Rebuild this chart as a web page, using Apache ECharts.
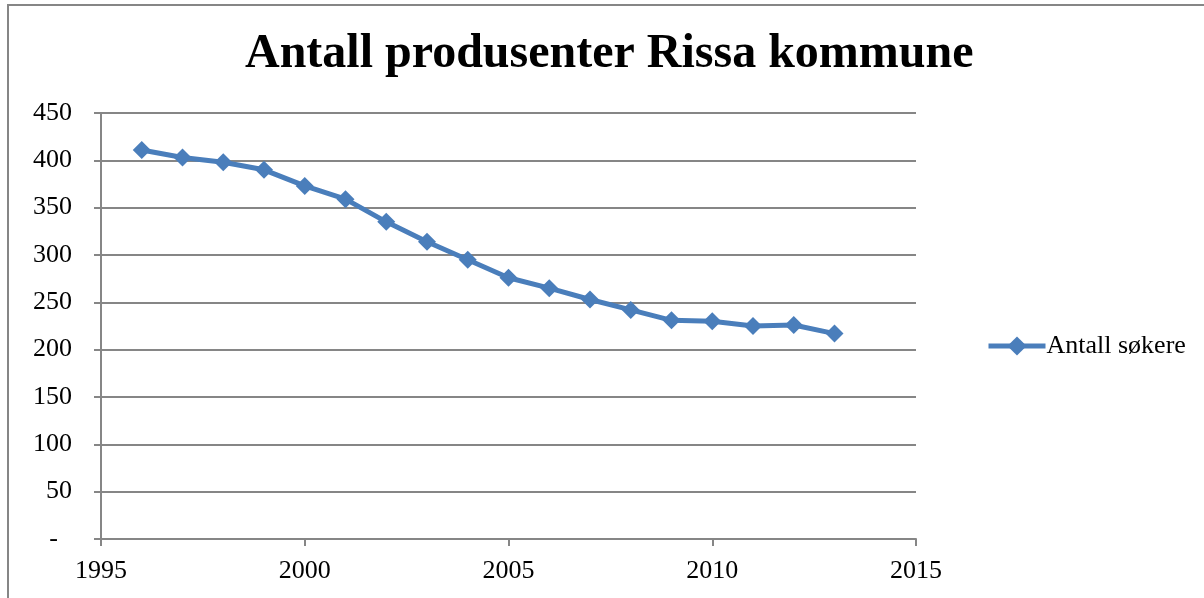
<!DOCTYPE html>
<html>
<head>
<meta charset="utf-8">
<script src="https://cdn.jsdelivr.net/npm/echarts@6/dist/echarts.min.js"></script>
<style>
  html, body { margin: 0; padding: 0; background: #fff; }
  #frame {
    position: absolute; left: 7px; top: 4px; width: 1210px; height: 600px;
    border-top: 2px solid #868686; border-left: 2px solid #868686;
  }
  #chart { position: absolute; left: 0; top: 0; width: 1204px; height: 598px; }
</style>
</head>
<body>
<div id="frame"></div>
<div id="chart"></div>
<script>
const years = [1996, 1997, 1998, 1999, 2000, 2001, 2002, 2003, 2004, 2005,
  2006, 2007, 2008, 2009, 2010, 2011, 2012, 2013];
const producers = [411, 403, 398, 390, 373, 359, 335, 314, 295, 276,
  265, 253, 242, 231, 230, 225, 226, 217];
const seriesName = "Antall søkere";
const titleText = "Antall produsenter Rissa kommune";

const serif = "'Liberation Serif', 'Times New Roman', serif";
const gray = "#868686";
const blue = "#4A7EBB";

const chart = echarts.init(document.getElementById("chart"));

chart.setOption({
  animation: false,
  backgroundColor: "transparent",
  title: {
    text: titleText,
    left: 240,
    top: 26,
    textStyle: {
      fontFamily: serif,
      fontSize: 48,
      fontWeight: "bold",
      color: "#000",
    },
  },
  legend: {
    data: [seriesName],
    left: 981,
    top: 328,
    itemWidth: 57,
    itemHeight: 24,
    lineStyle: { width: 5 },
    textStyle: { fontFamily: serif, fontSize: 26, color: "#000", padding: [0, 0, 0, -4] },
  },
  grid: { left: 101, right: 288, top: 113, bottom: 59, containLabel: false },
  xAxis: {
    type: "value",
    min: 1995,
    max: 2015,
    interval: 5,
    axisLine: { show: true, lineStyle: { color: gray, width: 2 } },
    axisTick: { show: true, length: 7, lineStyle: { color: gray, width: 2 } },
    splitLine: { show: false },
    axisLabel: {
      margin: 19,
      fontFamily: serif,
      fontSize: 26,
      color: "#000",
      formatter: (v) => String(v),
    },
  },
  yAxis: {
    type: "value",
    min: 0,
    max: 450,
    interval: 50,
    axisLine: { show: true, lineStyle: { color: gray, width: 2 } },
    axisTick: { show: true, length: 7, lineStyle: { color: gray, width: 2 } },
    splitLine: { show: true, lineStyle: { color: gray, width: 2 } },
    axisLabel: {
      margin: 29,
      fontFamily: serif,
      fontSize: 26,
      color: "#000",
      // Excel accounting format: zero shown as a dash, set in from the right
      formatter: (v) => (v === 0 ? "{dash|-}" : String(v)),
      rich: {
        dash: { fontFamily: serif, fontSize: 26, color: "#000", padding: [0, 14, 0, 0] },
      },
    },
  },
  series: [
    {
      name: seriesName,
      type: "line",
      data: years.map((y, i) => [y, producers[i]]),
      symbol: "diamond",
      symbolSize: 18,
      lineStyle: { color: blue, width: 5 },
      itemStyle: { color: blue },
    },
  ],
});
</script>
</body>
</html>
